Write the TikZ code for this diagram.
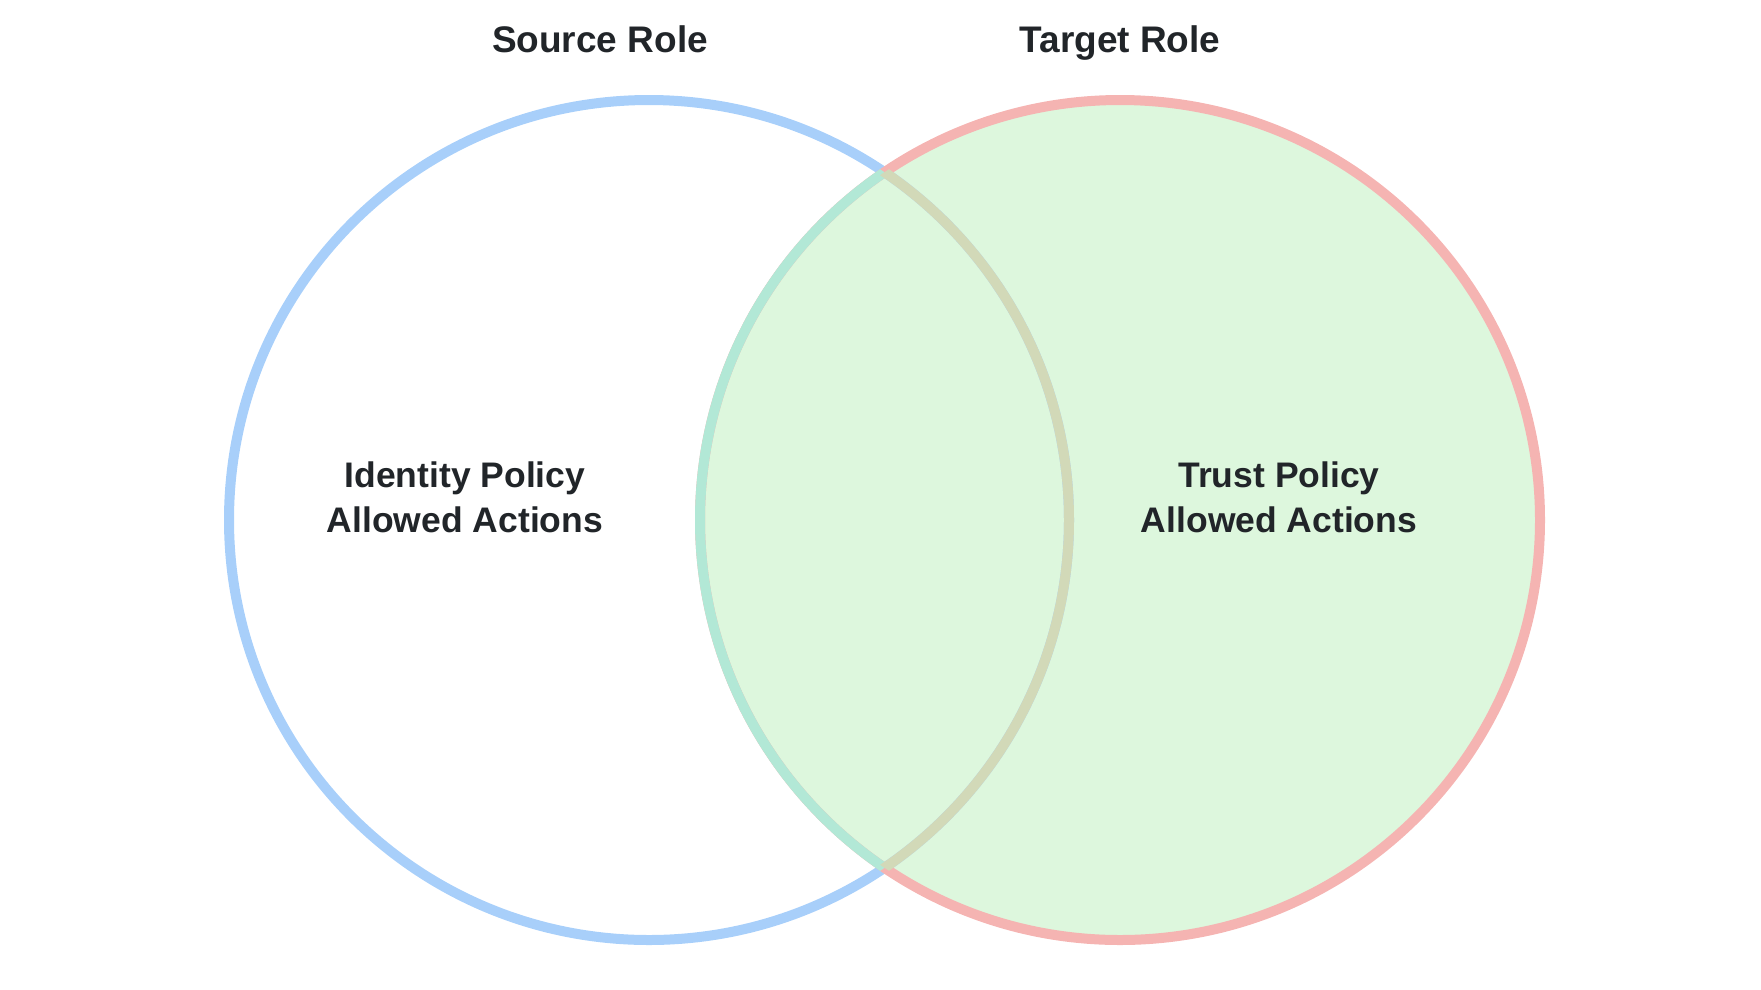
\documentclass[tikz,border=0pt]{standalone}
\usepackage{fontspec}
\setmainfont{Liberation Sans}
\usepackage{xcolor}
\definecolor{srcblue}{HTML}{A8CFFA}
\definecolor{tgtred}{HTML}{F5B4B2}
\definecolor{tgtgreen}{HTML}{DDF7DD}
\definecolor{lensteal}{HTML}{B2E8D6}
\definecolor{lenstan}{HTML}{D2D9B8}
\definecolor{inkdark}{HTML}{212529}

\begin{document}
\begin{tikzpicture}[x=1pt,y=-1pt,
  setname/.style={text=inkdark,anchor=base,font=\fontsize{37}{44}\selectfont\bfseries},
  areatext/.style={text=inkdark,align=center,font=\fontsize{35.5}{45}\selectfont\bfseries},
  ring/.style={line width=10pt}]
\useasboundingbox (0,0) rectangle (1761,989);
\coordinate (srcC) at (649,520);
\coordinate (tgtC) at (1120,520);
\fill[tgtgreen] (tgtC) circle[radius=420];
\draw[ring,srcblue] (srcC) circle[radius=420];
\draw[ring,tgtred] (tgtC) circle[radius=420];
% edges of the overlap
\begin{scope}
  \clip (srcC) circle[radius=420];
  \draw[ring,lensteal] (tgtC) circle[radius=420];
\end{scope}
\begin{scope}
  \clip (tgtC) circle[radius=420];
  \draw[ring,lenstan] (srcC) circle[radius=420];
\end{scope}
\node[setname] (srcT) at (600,52) {Source Role};
\node[setname] (tgtT) at (1120,52) {Target Role};
\node[areatext] (idT) at (465,497) {Identity Policy\\Allowed Actions};
\node[areatext] (trT) at (1279,497) {Trust Policy\\Allowed Actions};
\end{tikzpicture}
\end{document}
